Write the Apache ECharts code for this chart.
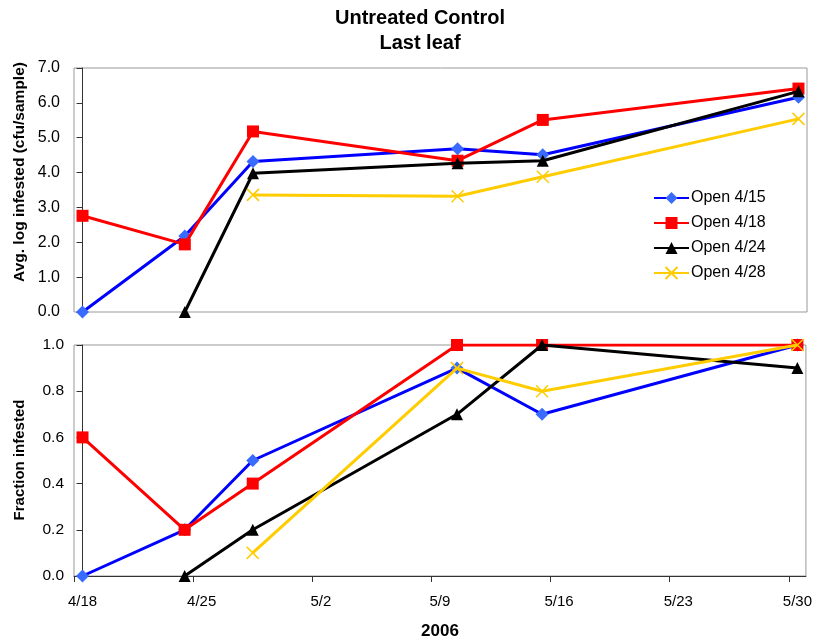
<!DOCTYPE html>
<html>
<head>
<meta charset="utf-8">
<script src="https://cdn.jsdelivr.net/npm/echarts@6/dist/echarts.min.js"></script>
<style>
  html, body { margin: 0; padding: 0; background: #fff; }
  #chart { width: 815px; height: 643px; }
</style>
</head>
<body>
<div id="chart"></div>
<script>
// Sampling dates (2006) and series
const sampleDates = ['4/18', '4/24', '4/28', '5/10', '5/15', '5/30'];
const seriesNames = ['Open 4/15', 'Open 4/18', 'Open 4/24', 'Open 4/28'];

// Avg. log infested (cfu/sample)
const logOpen415 = [0.0, 2.18, 4.32, 4.68, 4.51, 6.16];
const logOpen418 = [2.76, 1.94, 5.18, 4.34, 5.51, 6.41];
const logOpen424 = [null, 0.0, 3.98, 4.27, 4.34, 6.33];
const logOpen428 = [null, null, 3.36, 3.32, 3.88, 5.54];

// Fraction infested
const fracOpen415 = [0.0, 0.2, 0.5, 0.9, 0.7, 1.0];
const fracOpen418 = [0.6, 0.2, 0.4, 1.0, 1.0, 1.0];
const fracOpen424 = [null, 0.0, 0.2, 0.7, 1.0, 0.9];
const fracOpen428 = [null, null, 0.1, 0.9, 0.8, 1.0];

// Axis tick labels
const tickDates = ['4/18', '4/25', '5/2', '5/9', '5/16', '5/23', '5/30'];
const logTicks = [0, 1, 2, 3, 4, 5, 6, 7];
const fracTicks = [0, 0.2, 0.4, 0.6, 0.8, 1.0];

// Day offset from the first sampling date
function dayOf(s) {
  const [m, d] = s.split('/').map(Number);
  return Math.round((Date.UTC(2006, m - 1, d) - Date.UTC(2006, 3, 18)) / 86400000);
}
const tickDays = tickDates.map(dayOf);
const lastDay = tickDays[tickDays.length - 1];

function pairs(values) {
  const out = [];
  values.forEach((v, i) => { if (v !== null) out.push([dayOf(sampleDates[i]), v]); });
  return out;
}

const styles = [
  { line: '#0000FF', mark: '#3A6BFF', symbol: 'diamond', size: 13 },
  { line: '#FF0000', mark: '#FF0000', symbol: 'rect', size: 12 },
  { line: '#000000', mark: '#000000', symbol: 'triangle', size: 12 },
  { line: '#FFCC00', mark: '#FFCC00', symbol: 'path://M0,0L10,10M10,0L0,10', size: 12, cross: true }
];

const logData = [logOpen415, logOpen418, logOpen424, logOpen428];
const fracData = [fracOpen415, fracOpen418, fracOpen424, fracOpen428];

function makeSeries(idx, values, axis) {
  const st = styles[idx];
  return {
    name: seriesNames[idx],
    type: 'line',
    xAxisIndex: axis,
    yAxisIndex: axis,
    data: pairs(values),
    symbol: st.symbol,
    symbolSize: st.size,
    showAllSymbol: true,
    lineStyle: { color: st.line, width: 3 },
    itemStyle: st.cross
      ? { color: st.mark, borderColor: st.mark, borderWidth: 1.5 }
      : { color: st.mark, borderWidth: 0 },
    emphasis: { disabled: true },
    z: 2 + idx
  };
}

const series = [];
logData.forEach((v, i) => series.push(makeSeries(i, v, 0)));
fracData.forEach((v, i) => series.push(makeSeries(i, v, 1)));

const fontFamily = 'Liberation Sans, Arial, sans-serif';

function xAxisBase(gridIndex, showLabels) {
  return {
    type: 'value',
    gridIndex: gridIndex,
    min: -0.5,
    max: lastDay + 0.5,
    splitLine: { show: false },
    axisLine: { show: showLabels, lineStyle: { color: '#333', width: 1 } },
    axisTick: {
      show: showLabels,
      length: 6,
      lineStyle: { color: '#333' },
      customValues: tickDays.map(d => d - 0.5)
    },
    axisLabel: {
      show: showLabels,
      customValues: tickDays,
      margin: 18,
      fontSize: 15,
      color: '#000',
      fontFamily: fontFamily,
      formatter: v => tickDates[tickDays.indexOf(Math.round(v))] || ''
    }
  };
}

function yAxisBase(gridIndex, ticks, margin, fontSize) {
  return {
    type: 'value',
    gridIndex: gridIndex,
    min: ticks[0],
    max: ticks[ticks.length - 1],
    interval: ticks[1] - ticks[0],
    splitLine: { show: false },
    axisLine: { show: true, lineStyle: { color: '#333', width: 1 } },
    axisTick: { show: true, length: 6, lineStyle: { color: '#333' } },
    axisLabel: {
      margin: margin,
      fontSize: fontSize,
      color: '#000',
      fontFamily: fontFamily,
      formatter: v => v.toFixed(1)
    }
  };
}

const chart = echarts.init(document.getElementById('chart'), null, { renderer: 'canvas' });
chart.setOption({
  animation: false,
  backgroundColor: '#fff',
  grid: [
    { left: 74, right: 8, top: 68, height: 244, show: true, borderColor: '#999', borderWidth: 1, backgroundColor: 'transparent' },
    { left: 74, right: 8, top: 345, bottom: 67, show: true, borderColor: '#999', borderWidth: 1, backgroundColor: 'transparent' }
  ],
  xAxis: [xAxisBase(0, false), xAxisBase(1, true)],
  yAxis: [yAxisBase(0, logTicks, 14, 16), yAxisBase(1, fracTicks, 10, 15.5)],
  legend: {
    data: seriesNames,
    orient: 'vertical',
    left: 653,
    top: 190,
    padding: 0,
    itemWidth: 35,
    itemHeight: 15,
    itemGap: 9,
    selectedMode: false,
    textStyle: { fontSize: 16, lineHeight: 15, color: '#000', fontFamily: fontFamily, padding: [0, 0, 0, -3] }
  },
  graphic: [
    {
      type: 'text',
      style: { text: 'Untreated Control', font: 'bold 20px ' + fontFamily, fill: '#000', x: 420, y: 18, textAlign: 'center', textVerticalAlign: 'middle' }
    },
    {
      type: 'text',
      style: { text: 'Last leaf', font: 'bold 20px ' + fontFamily, fill: '#000', x: 420, y: 43, textAlign: 'center', textVerticalAlign: 'middle' }
    },
    {
      type: 'text', x: 20, y: 172, rotation: Math.PI / 2,
      style: { text: 'Avg. log infested (cfu/sample)', font: 'bold 15.5px ' + fontFamily, fill: '#000', textAlign: 'center', textVerticalAlign: 'middle' }
    },
    {
      type: 'text', x: 20, y: 460, rotation: Math.PI / 2,
      style: { text: 'Fraction infested', font: 'bold 15px ' + fontFamily, fill: '#000', textAlign: 'center', textVerticalAlign: 'middle' }
    },
    {
      type: 'text',
      style: { text: '2006', font: 'bold 17px ' + fontFamily, fill: '#000', x: 440, y: 631, textAlign: 'center', textVerticalAlign: 'middle' }
    }
  ],
  series: series
});
</script>
</body>
</html>
